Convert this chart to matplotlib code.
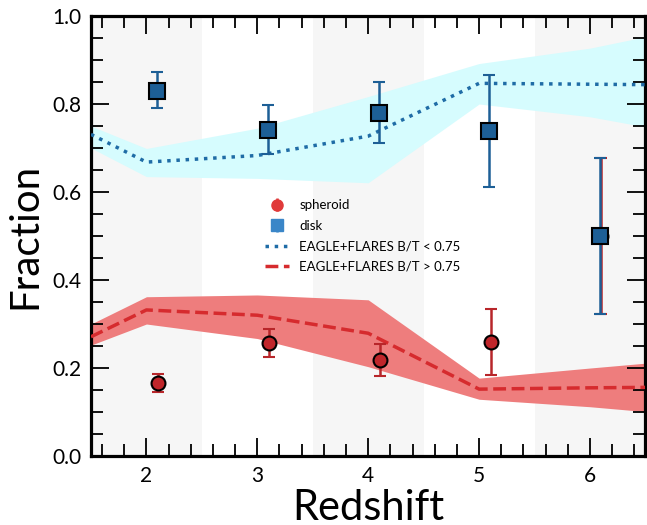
import numpy as np
import matplotlib
matplotlib.use("Agg")
import matplotlib.pyplot as plt
from matplotlib.ticker import MultipleLocator

plt.rcParams['font.family'] = ['Lato', 'DejaVu Sans']

## Observacoes
z_sph = [2.105, 3.105, 4.105, 5.105, 6.103]
frac_sph = [0.165, 0.256, 0.218, 0.260, 0.500]
sph_lo = [0.146, 0.224, 0.182, 0.184, 0.322]
sph_hi = [0.186, 0.289, 0.255, 0.335, 0.677]

z_disk = [2.093, 3.093, 4.093, 5.093, 6.093]
frac_disk = [0.830, 0.742, 0.780, 0.738, 0.499]
disk_lo = [0.790, 0.686, 0.711, 0.612, 0.322]
disk_hi = [0.873, 0.798, 0.850, 0.865, 0.677]

## Modelo EAGLE+FLARES
z_mod = [1.5, 2, 3, 4, 5, 6, 6.5]
mod_disk = [0.731, 0.668, 0.683, 0.727, 0.847, 0.845, 0.844]
mod_disk_lo = [0.700, 0.635, 0.631, 0.621, 0.800, 0.771, 0.748]
mod_disk_hi = [0.750, 0.699, 0.745, 0.817, 0.892, 0.927, 0.953]
mod_sph = [0.271, 0.332, 0.320, 0.279, 0.152, 0.155, 0.156]
mod_sph_lo = [0.252, 0.300, 0.267, 0.203, 0.129, 0.112, 0.101]
mod_sph_hi = [0.300, 0.362, 0.366, 0.355, 0.177, 0.200, 0.211]

gray_bins = [(1.5, 2.5), (3.5, 4.5), (5.5, 6.5)]

fig = plt.figure(figsize=(6.47, 5.25), dpi=100)
ax = fig.add_axes([0.1406, 0.1314, 0.857, 0.8381])

for a, b in gray_bins:
    ax.axvspan(a, b, color="#f6f6f6", lw=0, zorder=0)

ax.fill_between(z_mod, mod_disk_lo, mod_disk_hi, color="#d6fcfe", lw=0, zorder=1)
ax.fill_between(z_mod, mod_sph_lo, mod_sph_hi, color="#ee7d7d", lw=0, zorder=1)

sph_err = [np.array(frac_sph) - np.array(sph_lo), np.array(sph_hi) - np.array(frac_sph)]
disk_err = [np.array(frac_disk) - np.array(disk_lo), np.array(disk_hi) - np.array(frac_disk)]

h_sph = ax.errorbar(z_sph, frac_sph, yerr=sph_err, fmt="o", ms=10, mfc="#c0262b", mec="black", mew=1.5,
                    ecolor="#b8262a", elinewidth=1.8, capsize=4.5, capthick=1.8, zorder=4)
h_disk = ax.errorbar(z_disk, frac_disk, yerr=disk_err, fmt="s", ms=11, mfc="#1d5f96", mec="black", mew=1.5,
                     ecolor="#1d5f96", elinewidth=1.8, capsize=4.5, capthick=1.8, zorder=5)

h_md, = ax.plot(z_mod, mod_disk, ls=":", lw=2.5, color="#1f6ca6", zorder=3)
h_ms, = ax.plot(z_mod, mod_sph, ls="--", lw=2.5, color="#d62b2e", zorder=3)

# marcadores da legenda (sem borda, como no original)
leg_sph = ax.errorbar([], [], yerr=[], fmt="o", ms=8, mfc="#e03a3a", mec="#e03a3a",
                      ecolor="#e03a3a", elinewidth=1.8, capsize=4, capthick=1.8)
leg_disk = ax.errorbar([], [], yerr=[], fmt="s", ms=8, mfc="#3a86c8", mec="#3a86c8",
                       ecolor="#3a86c8", elinewidth=1.8, capsize=0)

ax.set_xlim(1.5, 6.5)
ax.set_ylim(0, 1)
ax.xaxis.set_major_locator(MultipleLocator(1))
ax.xaxis.set_minor_locator(MultipleLocator(0.2))
ax.yaxis.set_major_locator(MultipleLocator(0.2))
ax.yaxis.set_minor_locator(MultipleLocator(0.05))
ax.tick_params(which="both", direction="in", top=True, right=True, labelsize=15, pad=7)
ax.tick_params(which="major", length=13, width=1.3)
ax.tick_params(which="minor", length=8.5, width=1.3)
for s in ax.spines.values():
    s.set_linewidth(2.3)

ax.set_xlabel("Redshift", fontsize=30, labelpad=2)
ax.set_ylabel("Fraction", fontsize=29, labelpad=6)

ax.legend([leg_sph, leg_disk, h_md, h_ms],
          ["spheroid", "disk", "EAGLE+FLARES B/T < 0.75", "EAGLE+FLARES B/T > 0.75"],
          loc="center", bbox_to_anchor=(0.49, 0.5), frameon=False, fontsize=9.5,
          handlelength=1.8, labelspacing=0.65)

fig.savefig("out.png", dpi=100)
